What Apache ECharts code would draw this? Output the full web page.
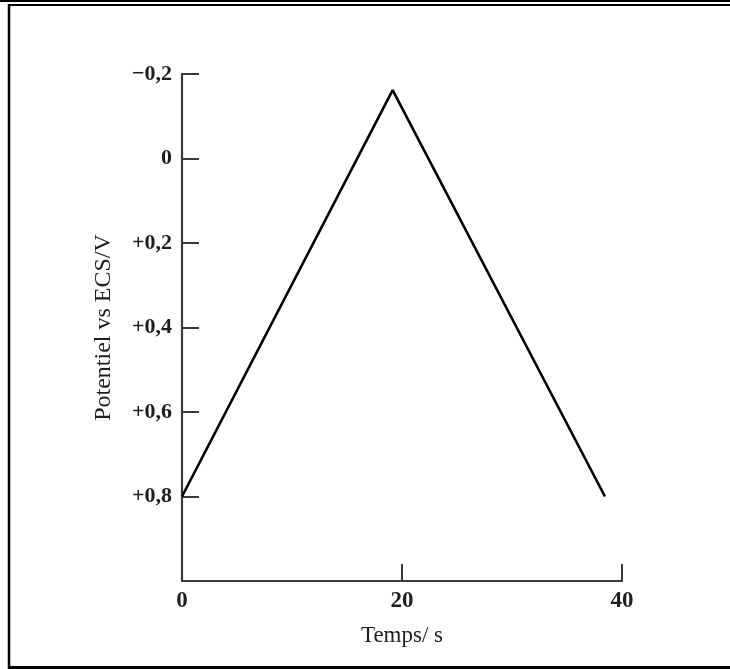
<!DOCTYPE html>
<html>
<head>
<meta charset="utf-8">
<script src="https://cdn.jsdelivr.net/npm/echarts@6/dist/echarts.min.js"></script>
<style>
html,body{margin:0;padding:0;background:#fff;}
#chart{width:730px;height:669px;}
</style>
</head>
<body>
<div id="chart"></div>
<script>
// Data
var timeValues = [0, 19.15, 38.45];
var potentialValues = [0.8, -0.162, 0.8];
var xTickValues = [0, 20, 40];
var xTickLabels = ['0', '20', '40'];
var yTickValues = [-0.2, 0, 0.2, 0.4, 0.6, 0.8];
var yTickLabels = ['\u22120,2', '0', '+0,2', '+0,4', '+0,6', '+0,8'];
var xAxisTitle = 'Temps/ s';
var yAxisTitle = 'Potentiel vs ECS/V';

var seriesData = timeValues.map(function (t, i) { return [t, potentialValues[i]]; });

function labelFor(values, labels, v) {
  for (var i = 0; i < values.length; i++) {
    if (Math.abs(values[i] - v) < 1e-9) return labels[i];
  }
  return '';
}

var font = '"Liberation Serif", "DejaVu Serif", serif';
var axisColor = '#3a3a3a';
var textColor = '#1e1e1e';

var chart = echarts.init(document.getElementById('chart'), null, {renderer: 'canvas'});
chart.setOption({
  animation: false,
  backgroundColor: '#fff',
  grid: {left: 182, right: 108, top: 74, bottom: 88, containLabel: false},
  xAxis: {
    type: 'value', min: 0, max: 40, interval: 20,
    axisLine: {show: true, onZero: false, lineStyle: {color: axisColor, width: 2.2}},
    axisTick: {show: true, inside: true, length: 17, lineStyle: {color: axisColor, width: 2}},
    splitLine: {show: false},
    axisLabel: {
      margin: 9, color: textColor, fontFamily: font, fontSize: 23, fontWeight: 'bold',
      formatter: function (v) { return labelFor(xTickValues, xTickLabels, v); }
    },
    name: xAxisTitle, nameLocation: 'middle', nameGap: 43,
    nameTextStyle: {color: textColor, fontFamily: font, fontSize: 23}
  },
  yAxis: {
    type: 'value', inverse: true, min: -0.2, max: 1.0, interval: 0.2,
    axisLine: {show: true, onZero: false, lineStyle: {color: axisColor, width: 2.2}},
    axisTick: {show: true, inside: true, length: 17, lineStyle: {color: axisColor, width: 2}},
    splitLine: {show: false},
    axisLabel: {
      margin: 10, color: textColor, fontFamily: font, fontSize: 22, fontWeight: 'bold',
      formatter: function (v) { return labelFor(yTickValues, yTickLabels, v); }
    },
    name: yAxisTitle, nameLocation: 'middle', nameGap: 66, nameRotate: 90,
    nameTextStyle: {color: textColor, fontFamily: font, fontSize: 24}
  },
  graphic: [
    {type: 'rect', shape: {x: 0, y: 0, width: 730, height: 2}, style: {fill: '#000'}},
    {type: 'line', shape: {x1: 8, y1: 5, x2: 730, y2: 5}, style: {stroke: '#000', lineWidth: 2}},
    {type: 'line', shape: {x1: 9, y1: 4, x2: 9, y2: 669}, style: {stroke: '#000', lineWidth: 2.5}},
    {type: 'line', shape: {x1: 8, y1: 667.5, x2: 730, y2: 667.5}, style: {stroke: '#000', lineWidth: 3}}
  ],
  series: [{
    type: 'line', data: seriesData, showSymbol: false, symbol: 'none',
    lineStyle: {color: '#000', width: 2.6}
  }]
});
</script>
</body>
</html>
